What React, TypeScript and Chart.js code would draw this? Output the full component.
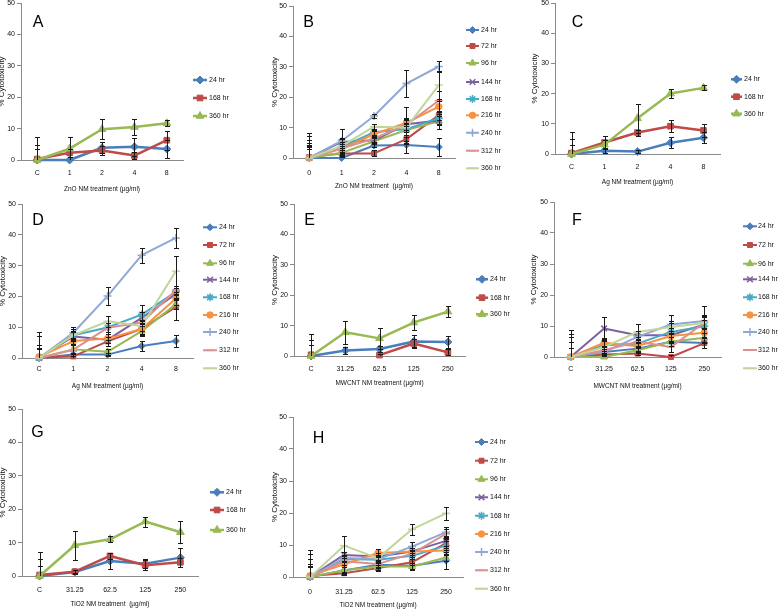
import React, { useEffect, useRef } from 'react';
import { Chart, registerables } from 'chart.js';
import { drawPoint } from 'chart.js/helpers';

Chart.register(...registerables);

const SANS = "'Liberation Sans', Arial, sans-serif";

// ---------- categories & texts ----------
const catsA = ['C', '1', '2', '4', '8'];
const catsB = ['0', '1', '2', '4', '8'];
const catsAg = ['C', '1', '2', '4', '8'];
const catsMW = ['C', '31.25', '62.5', '125', '250'];
const catsG = ['C', '31.25', '62.5', '125', '250'];
const catsH = ['0', '31.25', '62.5', '125', '250'];
const yTicks = [0, 10, 20, 30, 40, 50];
const yTitle = '% Cytotoxicity';
const names3 = ['24 hr', '168 hr', '360 hr'];
const names9 = ['24 hr', '72 hr', '96 hr', '144 hr', '168 hr', '216 hr', '240 hr', '312 hr', '360 hr'];

// ---------- Panel A (ZnO) ----------
const A_24 = [0, 0, 3.9, 4.2, 3.5];
const A_24e = [7.2, 0, 1.8, 2.9, 2.8];
const A_168 = [0.3, 2.3, 3.0, 1.4, 6.3];
const A_168e = [4.5, 1.2, 1.5, 1.0, 3.0];
const A_360 = [0, 3.6, 9.8, 10.5, 11.7];
const A_360e = [3.5, 3.6, 3.1, 2.4, 0.9];

// ---------- Panel B (ZnO) ----------
const B_24 = [0, 0, 4.1, 4.3, 3.6];
const B_72 = [0.3, 1.5, 1.5, 6.2, 14.1];
const B_96 = [0, 1.7, 5.5, 9.2, 12.1];
const B_144 = [0, 5.3, 5.8, 11.1, 12.3];
const B_168 = [0, 3.6, 8.5, 9.5, 13.1];
const B_216 = [0, 3.1, 7.8, 11.6, 16.9];
const B_240 = [0, 5.6, 13.8, 24.5, 30.1];
const B_312 = [0, 3.1, 6.4, 10.9, 18.9];
const B_360 = [0, 3.9, 10.3, 10.0, 24.0];
const B_24e = [8.2, 1.0, 0.5, 2.5, 2.9];
const B_72e = [7.0, 1.0, 1.0, 1.5, 1.5];
const B_96e = [5.9, 1.5, 1.0, 3.5, 2.5];
const B_144e = [4.3, 1.2, 1.0, 2.0, 1.5];
const B_168e = [5.0, 1.0, 1.0, 1.8, 2.0];
const B_216e = [4.0, 1.0, 1.2, 1.0, 1.8];
const B_240e = [3.0, 4.0, 0.6, 4.5, 1.9];
const B_312e = [3.0, 2.0, 1.0, 6.0, 3.3];
const B_360e = [3.5, 2.5, 1.0, 1.5, 4.5];

// ---------- Panel C (Ag) ----------
const C_24 = [0, 1.1, 0.8, 3.7, 5.4];
const C_24e = [7.3, 0.8, 0.5, 1.8, 1.9];
const C_168 = [0.3, 3.8, 7.1, 9.2, 7.8];
const C_168e = [4.6, 2.0, 1.0, 2.0, 2.2];
const C_360 = [0, 3.1, 11.8, 20.0, 21.9];
const C_360e = [3.0, 1.5, 4.9, 1.5, 0.8];

// ---------- Panel D (Ag) ----------
const D_24 = [0, 1.1, 1.1, 3.9, 5.5];
const D_72 = [0.2, 0.5, 5.4, 9.5, 16.6];
const D_96 = [0, 2.8, 2.0, 8.7, 17.5];
const D_144 = [0, 7.0, 5.9, 13.0, 20.8];
const D_168 = [0, 7.4, 9.9, 14.1, 21.5];
const D_216 = [0.4, 5.5, 6.3, 9.4, 19.3];
const D_240 = [0, 8.2, 20.1, 33.4, 39.0];
const D_312 = [0, 2.7, 9.8, 11.5, 22.0];
const D_360 = [0, 7.4, 11.9, 10.4, 28.2];
const D_24e = [8.5, 0.5, 0.5, 1.5, 1.9];
const D_72e = [6.8, 1.0, 1.5, 2.0, 4.3];
const D_96e = [4.1, 1.5, 1.0, 1.6, 1.5];
const D_144e = [3.0, 1.5, 2.0, 2.0, 2.0];
const D_168e = [3.0, 1.5, 1.5, 3.0, 1.9];
const D_216e = [3.0, 1.0, 1.5, 1.5, 2.0];
const D_240e = [3.0, 1.9, 3.0, 2.4, 3.3];
const D_312e = [3.0, 1.5, 3.9, 1.0, 1.5];
const D_360e = [3.0, 2.0, 1.8, 1.5, 4.9];

// ---------- Panel E (MWCNT) ----------
const E_24 = [0, 1.8, 2.3, 4.8, 4.6];
const E_24e = [7.1, 1.0, 1.0, 2.0, 2.0];
const E_168 = [0.4, null, 0.3, 4.1, 1.2];
const E_168e = [5.0, null, 0.5, 1.5, 1.0];
const E_360 = [0, 7.8, 5.8, 11.0, 14.6];
const E_360e = [3.5, 3.7, 3.5, 2.5, 1.8];

// ---------- Panel F (MWCNT) ----------
const F_24 = [0, 1.6, 2.7, 4.9, 4.5];
const F_72 = [0, 0.8, 1.1, 0, 4.5];
const F_96 = [0, 0, 2.2, 4.9, 6.2];
const F_144 = [0, 9.2, 7.0, 7.0, 10.5];
const F_168 = [0, 3.8, 4.3, 8.1, 9.9];
const F_216 = [0, 4.6, 3.5, 6.8, 7.8];
const F_240 = [0, 1.6, 6.5, 10.5, 11.6];
const F_312 = [0, 2.2, 4.9, 3.2, 11.1];
const F_360 = [0, 3.2, 8.1, 9.7, 11.0];
const F_24e = [8.6, 1.0, 1.0, 1.5, 1.5];
const F_72e = [7.3, 0.5, 0.5, 0.5, 1.5];
const F_96e = [6.5, 1.0, 1.0, 1.5, 1.5];
const F_144e = [4.9, 3.8, 1.5, 2.5, 6.0];
const F_168e = [3.0, 2.0, 1.5, 3.0, 2.0];
const F_216e = [3.0, 1.5, 1.5, 1.5, 1.5];
const F_240e = [3.0, 1.5, 2.0, 3.0, 2.1];
const F_312e = [3.0, 1.5, 1.5, 1.6, 2.0];
const F_360e = [3.0, 2.0, 2.7, 2.0, 2.0];

// ---------- Panel G (TiO2) ----------
const G_24 = [0, 1.2, 4.5, 3.7, 5.5];
const G_24e = [7.2, 0.5, 2.4, 1.3, 2.8];
const G_168 = [0.3, 1.3, 6.0, 3.2, 4.1];
const G_168e = [4.9, 0.5, 1.0, 1.5, 1.4];
const G_360 = [0, 9.2, 11.0, 16.3, 13.1];
const G_360e = [3.0, 4.3, 0.9, 1.5, 3.3];

// ---------- Panel H (TiO2) ----------
const H_24 = [0, 2.0, 3.8, 3.5, 5.1];
const H_72 = [0.3, 1.2, 2.8, 4.6, 10.6];
const H_96 = [0, 2.1, 3.3, 3.3, 6.1];
const H_144 = [0, 6.9, 6.4, 8.0, 11.3];
const H_168 = [0, 5.6, 5.4, 6.6, 9.8];
const H_216 = [0.4, 4.0, 7.5, 8.0, 8.3];
const H_240 = [0, 5.9, 5.6, 9.5, 14.0];
const H_312 = [0, 4.9, 4.1, 7.3, 13.5];
const H_360 = [0, 9.8, 5.9, 14.9, 19.9];
const H_24e = [8.3, 1.0, 1.0, 1.0, 2.6];
const H_72e = [7.0, 0.5, 1.0, 1.0, 1.5];
const H_96e = [5.6, 1.0, 1.0, 1.0, 1.0];
const H_144e = [4.1, 1.0, 1.0, 1.0, 1.5];
const H_168e = [3.0, 1.0, 1.0, 1.0, 1.5];
const H_216e = [3.0, 1.0, 1.2, 1.0, 1.5];
const H_240e = [3.0, 1.0, 1.0, 1.4, 1.5];
const H_312e = [3.0, 1.0, 1.0, 1.0, 1.5];
const H_360e = [3.0, 2.9, 1.0, 1.7, 2.1];

// ---------- styles ----------
type Sty = { color: string; point: string; r: number; bw: number };
const STY9: Sty[] = [
  { color: '#4A7EBB', point: 'rectRot', r: 3.5, bw: 1 },
  { color: '#BE4B48', point: 'rect', r: 3.5, bw: 1 },
  { color: '#98B954', point: 'triangle', r: 4, bw: 1 },
  { color: '#7D60A0', point: 'crossRot', r: 4, bw: 1.5 },
  { color: '#46AAC5', point: 'star', r: 4, bw: 1.5 },
  { color: '#F69240', point: 'circle', r: 3.2, bw: 1 },
  { color: '#8FA8D6', point: 'cross', r: 4, bw: 1.5 },
  { color: '#DA9190', point: 'line', r: 4, bw: 1.5 },
  { color: '#C0D59A', point: 'line', r: 4, bw: 1.5 },
];
const STY3: Sty[] = [
  { color: '#4A7EBB', point: 'rectRot', r: 4, bw: 1 },
  { color: '#BE4B48', point: 'rect', r: 4, bw: 1 },
  { color: '#98B954', point: 'triangle', r: 4.5, bw: 1 },
];

type Series = { label: string; data: (number | null)[]; err: (number | null)[] };
type PanelDef = {
  letter: string; letterX: number; letterY: number;
  cats: string[]; xTitle: string; series: Series[]; styles: Sty[];
  ca: { l: number; t: number; r: number; b: number };
  yTitleX: number; xTickY: number; xTitleY: number; canvasRight: number;
  legend: { x1: number; x2: number; tx: number; ys: number[] };
  lineW: number;
};

const mk = (names: string[], vals: (number | null)[][], errs: (number | null)[][]): Series[] =>
  names.map((n, i) => ({ label: n, data: vals[i], err: errs[i] }));

const PANELS: PanelDef[] = [
  {
    letter: 'A', letterX: 38, letterY: 23, cats: catsA, xTitle: 'ZnO NM treatment (µg/ml)',
    series: mk(names3, [A_24, A_168, A_360], [A_24e, A_168e, A_360e]), styles: STY3,
    ca: { l: 21, t: 3, r: 183, b: 160 }, yTitleX: 2, xTickY: 172.7, xTitleY: 189, canvasRight: 255,
    legend: { x1: 193, x2: 207, tx: 209, ys: [80, 98, 116] }, lineW: 2.5,
  },
  {
    letter: 'B', letterX: 308.5, letterY: 23, cats: catsB, xTitle: 'ZnO NM treatment  (µg/ml)',
    series: mk(names9, [B_24, B_72, B_96, B_144, B_168, B_216, B_240, B_312, B_360],
      [B_24e, B_72e, B_96e, B_144e, B_168e, B_216e, B_240e, B_312e, B_360e]), styles: STY9,
    ca: { l: 293, t: 6, r: 455, b: 158 }, yTitleX: 275, xTickY: 172.7, xTitleY: 186, canvasRight: 520,
    legend: { x1: 466, x2: 479, tx: 481, ys: [30, 46, 63, 82, 99, 115.3, 132.7, 150.7, 168.3] }, lineW: 2,
  },
  {
    letter: 'C', letterX: 577.5, letterY: 22.5, cats: catsAg, xTitle: 'Ag NM treatment (µg/ml)',
    series: mk(names3, [C_24, C_168, C_360], [C_24e, C_168e, C_360e]), styles: STY3,
    ca: { l: 555, t: 3, r: 720, b: 154 }, yTitleX: 535, xTickY: 167.5, xTitleY: 182.5, canvasRight: 778,
    legend: { x1: 731, x2: 742, tx: 744, ys: [79.3, 96.7, 113.7] }, lineW: 2.5,
  },
  {
    letter: 'D', letterX: 38, letterY: 221, cats: catsAg, xTitle: 'Ag NM treatment (µg/ml)',
    series: mk(names9, [D_24, D_72, D_96, D_144, D_168, D_216, D_240, D_312, D_360],
      [D_24e, D_72e, D_96e, D_144e, D_168e, D_216e, D_240e, D_312e, D_360e]), styles: STY9,
    ca: { l: 22, t: 204, r: 193, b: 358 }, yTitleX: 2.5, xTickY: 369, xTitleY: 386, canvasRight: 260,
    legend: { x1: 203, x2: 217, tx: 219, ys: [227.3, 245, 263.3, 279.7, 297.3, 315, 332, 350.3, 368.3] }, lineW: 2,
  },
  {
    letter: 'E', letterX: 309.5, letterY: 221, cats: catsMW, xTitle: 'MWCNT NM treatment (µg/ml)',
    series: mk(names3, [E_24, E_168, E_360], [E_24e, E_168e, E_360e]), styles: STY3,
    ca: { l: 294, t: 204, r: 465, b: 356 }, yTitleX: 275, xTickY: 369, xTitleY: 383, canvasRight: 520,
    legend: { x1: 476, x2: 488, tx: 490, ys: [279.3, 297.7, 314.3] }, lineW: 2.5,
  },
  {
    letter: 'F', letterX: 577, letterY: 221, cats: catsMW, xTitle: 'MWCNT NM treatment (µg/ml)',
    series: mk(names9, [F_24, F_72, F_96, F_144, F_168, F_216, F_240, F_312, F_360],
      [F_24e, F_72e, F_96e, F_144e, F_168e, F_216e, F_240e, F_312e, F_360e]), styles: STY9,
    ca: { l: 554, t: 202, r: 721, b: 357 }, yTitleX: 534, xTickY: 369, xTitleY: 386, canvasRight: 778,
    legend: { x1: 743, x2: 757, tx: 758, ys: [226.3, 245, 263.7, 279.3, 297.3, 315, 332, 350, 368.3] }, lineW: 2,
  },
  {
    letter: 'G', letterX: 37.5, letterY: 432.5, cats: catsG, xTitle: 'TiO2 NM treatment  (µg/ml)',
    series: mk(names3, [G_24, G_168, G_360], [G_24e, G_168e, G_360e]), styles: STY3,
    ca: { l: 22, t: 409, r: 198, b: 576 }, yTitleX: 2.5, xTickY: 590, xTitleY: 604, canvasRight: 260,
    legend: { x1: 210, x2: 224, tx: 226, ys: [492.3, 510, 530] }, lineW: 2.5,
  },
  {
    letter: 'H', letterX: 318.5, letterY: 439, cats: catsH, xTitle: 'TiO2 NM treatment (µg/ml)',
    series: mk(names9, [H_24, H_72, H_96, H_144, H_168, H_216, H_240, H_312, H_360],
      [H_24e, H_72e, H_96e, H_144e, H_168e, H_216e, H_240e, H_312e, H_360e]), styles: STY9,
    ca: { l: 293, t: 417, r: 463, b: 577 }, yTitleX: 275, xTickY: 591.7, xTitleY: 605.7, canvasRight: 520,
    legend: { x1: 475, x2: 488, tx: 490, ys: [442, 460.7, 479.3, 497.3, 515.7, 534, 552, 570.3, 588.7] }, lineW: 2,
  },
];

const TICK_SIZE = 7;
const TICK_LH = TICK_SIZE * 1.2;
const XT_SIZE = 6.5;
const XT_LH = XT_SIZE * 1.2;
const YT_SIZE = 8;
const YT_LH = YT_SIZE * 1.2;
const LEG_SIZE = 7;

const overlayPlugin = {
  id: 'overlay',
  afterDatasetsDraw(chart: any) {
    const { ctx, chartArea } = chart;
    const yS = chart.scales.y;
    ctx.save();
    ctx.beginPath();
    ctx.rect(chartArea.left - 5, chartArea.top - 2, chartArea.right - chartArea.left + 10, chartArea.bottom - chartArea.top + 2);
    ctx.clip();
    ctx.strokeStyle = '#1a1a1a';
    ctx.lineWidth = 1;
    chart.data.datasets.forEach((ds: any, di: number) => {
      const meta = chart.getDatasetMeta(di);
      (ds.errs || []).forEach((e: number | null, i: number) => {
        const v = ds.data[i];
        if (v == null || e == null || e === 0) return;
        const el = meta.data[i];
        if (!el) return;
        const x = Math.round(el.x) + 0.5;
        const yt = Math.round(yS.getPixelForValue(v + e)) + 0.5;
        const yb = Math.round(yS.getPixelForValue(v - e)) + 0.5;
        ctx.beginPath();
        ctx.moveTo(x, yt); ctx.lineTo(x, yb);
        ctx.moveTo(x - 2.5, yt); ctx.lineTo(x + 2.5, yt);
        ctx.moveTo(x - 2.5, yb); ctx.lineTo(x + 2.5, yb);
        ctx.stroke();
      });
    });
    ctx.restore();
  },
  afterDraw(chart: any, _args: any, opts: any) {
    const { ctx } = chart;
    const { panel, cx, cy } = opts;
    if (!panel) return;
    ctx.save();
    chart.data.datasets.forEach((ds: any, i: number) => {
      const y = panel.legend.ys[i] - cy;
      const x1 = panel.legend.x1 - cx;
      const x2 = panel.legend.x2 - cx;
      ctx.strokeStyle = ds.borderColor;
      ctx.lineWidth = ds.borderWidth;
      ctx.lineCap = 'butt';
      ctx.beginPath();
      ctx.moveTo(x1, y);
      ctx.lineTo(x2, y);
      ctx.stroke();
      ctx.fillStyle = ds.pointBackgroundColor;
      ctx.strokeStyle = ds.pointBorderColor;
      ctx.lineWidth = ds.pointBorderWidth;
      drawPoint(ctx, { pointStyle: ds.pointStyle, radius: ds.pointRadius, borderWidth: ds.pointBorderWidth, rotation: 0 } as any, (x1 + x2) / 2, y);
      ctx.fillStyle = '#111';
      ctx.font = `${LEG_SIZE}px ${SANS}`;
      ctx.textBaseline = 'middle';
      ctx.textAlign = 'left';
      ctx.fillText(ds.label, panel.legend.tx - cx, y);
    });
    ctx.fillStyle = '#000';
    ctx.font = `16px ${SANS}`;
    ctx.textAlign = 'center';
    ctx.textBaseline = 'middle';
    ctx.fillText(panel.letter, panel.letterX - cx, panel.letterY - cy);
    ctx.restore();
  },
};

function Panel({ p }: { p: PanelDef }) {
  const ref = useRef<HTMLCanvasElement>(null);
  const cx = Math.round(p.yTitleX - YT_LH / 2);
  const cy = p.ca.t - 10;
  const W = p.canvasRight - cx;
  const xH = p.xTitleY + XT_LH / 2 - p.ca.b;
  const H = Math.ceil(p.ca.b + xH + 4 - cy);
  const padBottom = H - (p.ca.b - cy) - xH;
  const yW = p.ca.l - cx;

  useEffect(() => {
    const chart = new Chart(ref.current as HTMLCanvasElement, {
      type: 'line',
      data: {
        labels: p.cats,
        datasets: p.series.map((s, i) => {
          const st = p.styles[i];
          return {
            label: s.label,
            data: s.data,
            errs: s.err,
            order: -i,
            borderColor: st.color,
            backgroundColor: st.color,
            pointBackgroundColor: st.color,
            pointBorderColor: st.color,
            pointStyle: st.point,
            pointRadius: st.r,
            pointHoverRadius: st.r,
            pointBorderWidth: st.bw,
            borderWidth: p.lineW,
            tension: 0,
            spanGaps: false,
            clip: false,
            borderJoinStyle: 'round',
          } as any;
        }),
      },
      options: {
        animation: false,
        responsive: false,
        maintainAspectRatio: false,
        events: [],
        layout: { padding: { left: 0, top: p.ca.t - cy, right: W - (p.ca.r - cx), bottom: padBottom } },
        plugins: {
          legend: { display: false },
          tooltip: { enabled: false },
          overlay: { panel: p, cx, cy },
        } as any,
        scales: {
          x: {
            type: 'category',
            offset: true,
            grid: { display: false, drawTicks: false },
            border: { display: true, color: '#8a8a8a', width: 1 },
            ticks: {
              font: { family: SANS, size: TICK_SIZE },
              color: '#111',
              padding: p.xTickY - p.ca.b - TICK_LH / 2,
              maxRotation: 0,
              autoSkip: false,
            },
            title: { display: true, text: p.xTitle, font: { family: SANS, size: XT_SIZE }, color: '#111', padding: 0 },
            afterFit: (s: any) => { s.height = xH; },
          },
          y: {
            min: 0,
            max: 50,
            afterBuildTicks: (s: any) => { s.ticks = yTicks.map((v) => ({ value: v })); },
            grid: { display: true, drawOnChartArea: false, drawTicks: true, tickLength: 4, color: '#8a8a8a' },
            border: { display: true, color: '#8a8a8a', width: 1 },
            ticks: { font: { family: SANS, size: TICK_SIZE }, color: '#111', padding: 2 },
            title: { display: true, text: yTitle, font: { family: SANS, size: YT_SIZE }, color: '#111', padding: 0 },
            afterFit: (s: any) => { s.width = yW; },
          },
        },
      } as any,
      plugins: [overlayPlugin as any],
    });
    return () => chart.destroy();
  }, []);

  return (
    <canvas
      ref={ref}
      width={W}
      height={H}
      style={{ position: 'absolute', left: cx, top: cy, width: W, height: H }}
    />
  );
}

export default function App() {
  return (
    <div style={{ position: 'absolute', left: 0, top: 0, width: 778, height: 611, overflow: 'hidden', background: '#fff' }}>
      {PANELS.map((p) => (
        <Panel key={p.letter} p={p} />
      ))}
    </div>
  );
}
